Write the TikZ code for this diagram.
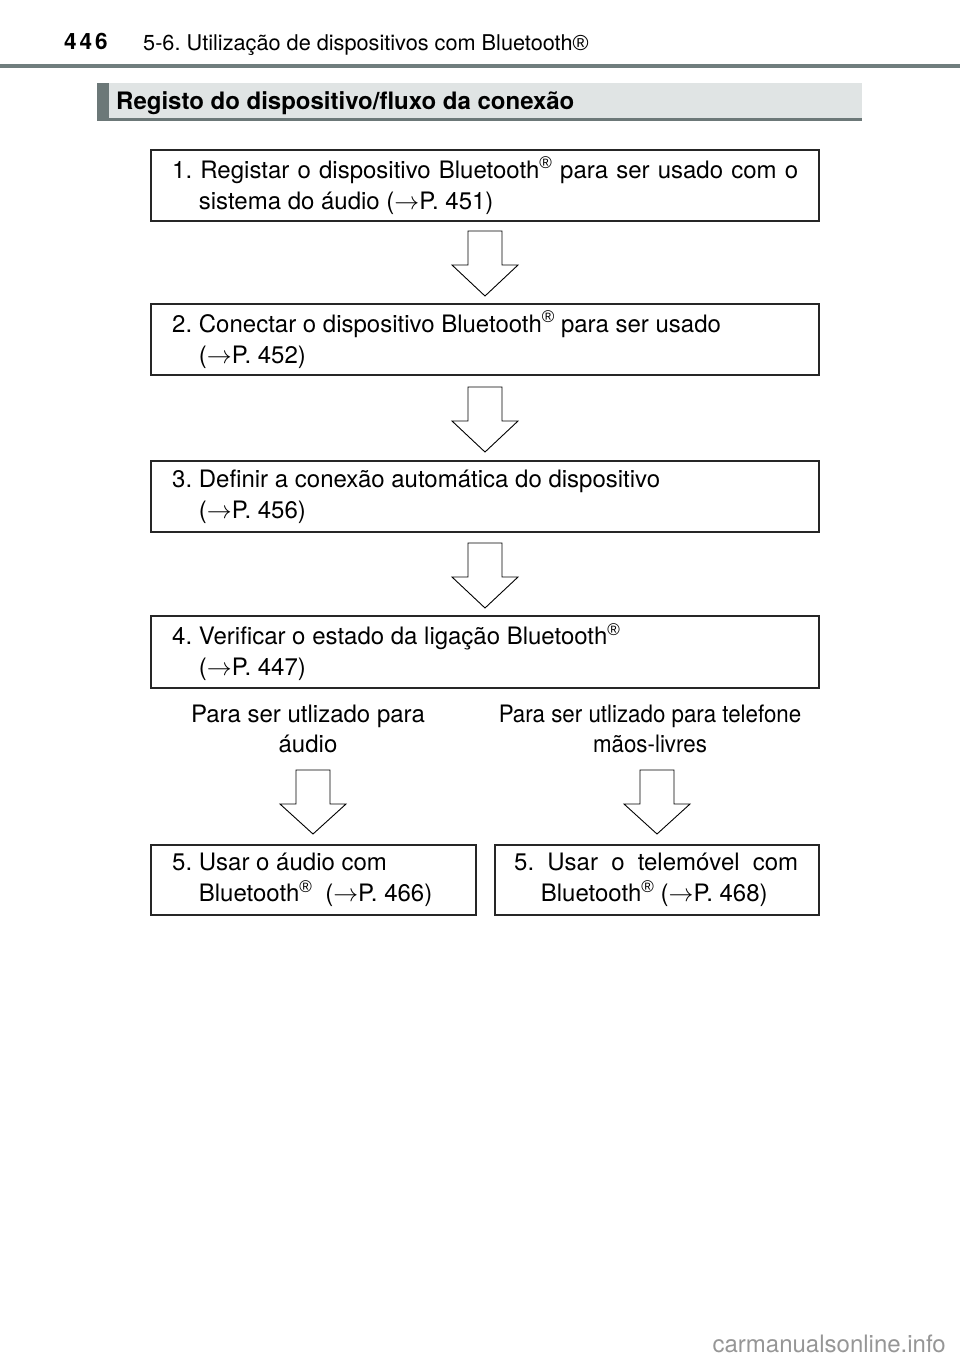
\documentclass[tikz,border=0pt]{standalone}
\usepackage{fontspec}
\setmainfont{TeX Gyre Heros}
\newfontfamily\condfont[FakeStretch=0.93]{TeX Gyre Heros}
\newfontfamily\regfont{Liberation Sans}
\definecolor{rulegray}{RGB}{112,126,126}
\definecolor{barfill}{RGB}{224,228,228}
\definecolor{bardark}{RGB}{108,120,120}
\definecolor{wmgray}{RGB}{150,150,150}
\tikzset{
  stepbox/.style={draw=black!85, line width=1.1pt},
  boxtext/.style={font=\fontsize{24}{31}\selectfont, align=left, inner sep=0pt},
  labeltext/.style={font=\fontsize{24}{30}\selectfont, align=center, inner sep=0pt},
  bigarrow/.style={draw=black, line width=0.9pt, fill=white, line join=miter}
}
\newcommand{\regmark}{\raisebox{0.75ex}{\regfont\fontsize{17}{17}\selectfont ®}}
\newcommand{\downarrowshape}[3]{% center x, top y, tip y
  \draw[bigarrow] (#1-17,#2) -- (#1+17,#2) -- (#1+17,#2+34) -- (#1+33,#2+34) -- (#1,#3) -- (#1-33,#2+34) -- (#1-17,#2+34) -- cycle;
}
\begin{document}
\frenchspacing
\begin{tikzpicture}[x=1pt,y=-1pt]
\useasboundingbox (0,0) rectangle (960,1360);
% header
\node[anchor=base west, inner sep=0pt, font=\fontsize{22.5}{23}\selectfont\bfseries] (pagenum) at (64,49) {4\kern3pt4\kern3pt6};
\node[anchor=base west, inner sep=0pt, font=\fontsize{21.7}{22}\selectfont] (chapter) at (143,50) {5-6. Utilização de dispositivos com Bluetooth{\regfont ®}};
\fill[rulegray] (0,63.5) rectangle (960,67.5);
% title bar
\fill[barfill] (97,83) rectangle (862,120);
\fill[bardark] (97,83) rectangle (109,120);
\fill[bardark] (97,118) rectangle (862,120.5);
\node[anchor=base west, inner sep=0pt, font=\fontsize{24}{24}\selectfont\bfseries] (title) at (116,109) {Registo do dispositivo/fluxo da conexão};
% boxes
\draw[stepbox] (151,150) rectangle (819,221);
\node[boxtext, anchor=west] (t1) at (172,185.5) {\makebox[626pt][s]{1. Registar o dispositivo Bluetooth\regmark{} para ser usado com o}\\\phantom{1.\ }sistema do áudio ($\rightarrow$P. 451)};
\draw[stepbox] (151,304) rectangle (819,375);
\node[boxtext, anchor=west] (t2) at (172,339.5) {2. Conectar o dispositivo Bluetooth\regmark{} para ser usado\\\phantom{2.\ }($\rightarrow$P. 452)};
\draw[stepbox] (151,461) rectangle (819,532);
\node[boxtext, anchor=west] (t3) at (172,496.5) {3. Definir a conexão automática do dispositivo\\\phantom{3.\ }($\rightarrow$P. 456)};
\draw[stepbox] (151,616) rectangle (819,688);
\node[boxtext, anchor=west] (t4) at (172,652) {4. Verificar o estado da ligação Bluetooth\regmark\\\phantom{4.\ }($\rightarrow$P. 447)};
% arrows between main boxes
\downarrowshape{485}{231}{296}
\downarrowshape{485}{387}{452}
\downarrowshape{485}{543}{608}
% branch labels
\node[labeltext] (la) at (308,729) {Para ser utlizado para\\áudio};
\node[labeltext, font=\condfont\fontsize{24}{30}\selectfont] (lb) at (650,729) {Para ser utlizado para telefone\\mãos-livres};
\downarrowshape{313}{770}{834}
\downarrowshape{657}{770}{834}
% final boxes
\draw[stepbox] (151,845) rectangle (476,915);
\node[boxtext, anchor=west] (t5a) at (172,880) {5. Usar o áudio com\\\phantom{5.\ }Bluetooth\regmark\ \ ($\rightarrow$P. 466)};
\draw[stepbox] (495,845) rectangle (819,915);
\node[boxtext, anchor=west] (t5b) at (514,880) {\makebox[284pt][s]{5. Usar o telemóvel com}\\\phantom{5.\ }Bluetooth\regmark{} ($\rightarrow$P. 468)};
% watermark
\node[anchor=base east, inner sep=0pt, text=wmgray, font=\fontsize{24}{24}\selectfont] (wm) at (946,1352) {carmanualsonline.info};
\end{tikzpicture}
\end{document}
